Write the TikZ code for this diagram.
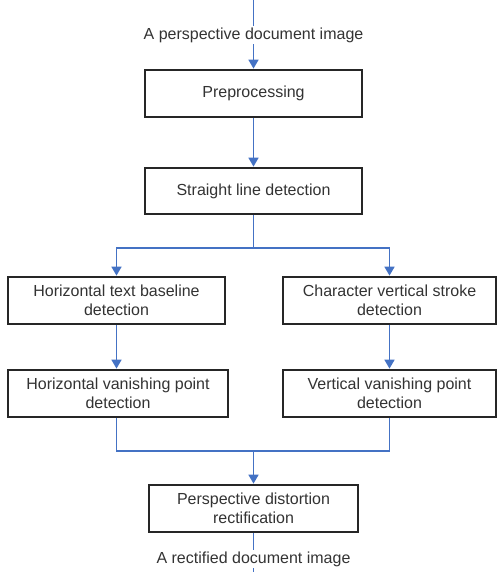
\documentclass[tikz,border=0pt]{standalone}
\usepackage{fontspec}
\setmainfont{Liberation Sans}
\usetikzlibrary{arrows.meta}

\definecolor{flowblue}{RGB}{68,114,196}

\tikzset{
	stage/.style={draw=black!85, line width=1.7pt, fill=white, inner sep=0pt,
		align=center, text=black!80, minimum height=47pt,
		font=\fontsize{16}{19}\selectfont},
	io/.style={inner sep=1.5pt, text=black!80, font=\fontsize{16}{19}\selectfont},
	flow/.style={draw=flowblue, line width=1.6pt},
	flowarr/.style={flow, -{Triangle[length=9pt,width=10pt]}, shorten >=0.5pt}
}

\begin{document}
\begin{tikzpicture}[x=1pt,y=-1pt]
				\useasboundingbox (0,0) rectangle (497,572);
				
				%% input and output
				\coordinate (src) at (253.5,0);
				\coordinate (sink) at (253.5,572);
				\node[io] (inimg) at (253.5,35) {A perspective document image};
				\node[io] (outimg) at (253.5,559) {A rectified document image};
				
				%% main stages
				\node[stage, minimum width=217pt] (prep) at (253.5,93.5) {Preprocessing};
				\node[stage, minimum width=217pt, minimum height=46pt] (lines) at (253.5,191) {Straight line detection};
				\node[stage, minimum width=217pt] (baseline) at (116.5,300.5) {Horizontal text baseline\\detection};
				\node[stage, minimum width=213pt] (stroke) at (389.5,300.5) {Character vertical stroke\\detection};
				\node[stage, minimum width=220pt] (hvp) at (118,393.5) {Horizontal vanishing point\\detection};
				\node[stage, minimum width=213pt] (vvp) at (389.5,393.5) {Vertical vanishing point\\detection};
				\node[stage, minimum width=209pt] (rect) at (253.5,508.5) {Perspective distortion\\rectification};
				
				%% junctions
				\coordinate (split) at (253.5,248);
				\coordinate (merge) at (253.5,451);
				
				%% connectors
				\draw[flow] (src) -- (inimg);
				\draw[flowarr] (inimg) -- (prep);
				\draw[flowarr] (prep) -- (lines);
				\draw[flow] (lines) -- (split);
				\draw[flowarr] (split) -| (baseline);
				\draw[flowarr] (split) -| (stroke);
				\draw[flowarr] (baseline) -- (baseline |- hvp.north);
				\draw[flowarr] (stroke) -- (vvp);
				\draw[flow] (baseline |- hvp.south) |- (merge);
				\draw[flow] (vvp) |- (merge);
				\draw[flowarr] (merge) -- (rect);
				\draw[flow] (rect) -- (outimg);
				\draw[flow] (outimg) -- (sink);
\end{tikzpicture}
\end{document}
